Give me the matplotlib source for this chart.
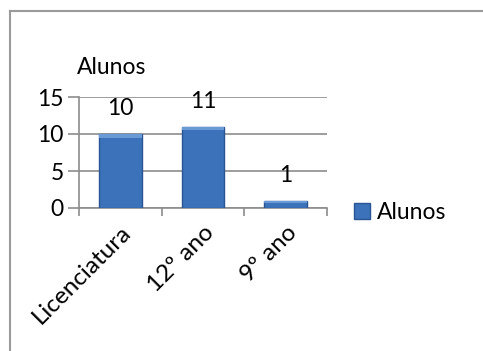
import matplotlib.pyplot as plt
from matplotlib.lines import Line2D

categories = ['Licenciatura', '12º ano', '9º ano']
alunos = [10, 11, 1]
yticks = [0, 5, 10, 15]

plt.rcParams['font.family'] = ['Lato', 'DejaVu Sans']
FS = 16.5

fig = plt.figure(figsize=(4.83, 3.51), dpi=100)
# axes box in pixels: x 79..327, y 97..208 (from top)
W, H = 483, 351
ax = fig.add_axes([79 / W, 1 - 208 / H, (327 - 79) / W, (208 - 97) / H])

x = range(len(categories))
bars = ax.bar(x, alunos, width=0.52, color='#3C72BA', edgecolor='#2A5494',
              linewidth=1.0, label='Alunos', zorder=3)
for b in bars:
    # lighter top strip to mimic the bevel
    h = min(0.5, b.get_height() * 0.3)
    ax.bar(b.get_x() + b.get_width() / 2, h, bottom=b.get_height() - h,
           width=b.get_width(), color='#6A9AD6', linewidth=0, zorder=4)

for xi, v in zip(x, alunos):
    ax.text(xi, v + 3.4, str(v), ha='center', va='center', fontsize=FS, zorder=5)

ax.set_xlim(-0.5, 2.5)
ax.set_ylim(0, 15)
ax.set_yticks(yticks)
ax.set_yticklabels([str(t) for t in yticks], fontsize=FS)
ax.yaxis.grid(True, color='#8c8c8c', linewidth=1.2, zorder=0)
ax.set_axisbelow(True)

ax.set_xticks([-0.5, 0.5, 1.5, 2.5], minor=False)
ax.set_xticklabels([])
ax.set_xticks(list(x), minor=True)
ax.set_xticklabels(categories, minor=True, rotation=45, ha='right',
                   rotation_mode='anchor', fontsize=17.5)
ax.tick_params(axis='x', which='minor', length=0, pad=10)
ax.tick_params(axis='x', which='major', length=6, width=1.2, color='#8c8c8c',
               direction='out')
ax.tick_params(axis='y', length=8, width=1.2, color='#8c8c8c', pad=3)

for s in ['top', 'right']:
    ax.spines[s].set_visible(False)
ax.spines['left'].set_color('#8c8c8c')
ax.spines['left'].set_linewidth(1.2)
ax.spines['bottom'].set_color('#8c8c8c')
ax.spines['bottom'].set_linewidth(1.2)

fig.text(77 / W, 1 - 68 / H, 'Alunos', fontsize=FS, ha='left', va='center')

leg = fig.legend(handles=[bars], labels=['Alunos'], loc='center left',
                 bbox_to_anchor=(354 / W, 1 - 213 / H), frameon=False,
                 fontsize=FS, handlelength=0.7, handleheight=0.7,
                 handletextpad=0.3, borderpad=0, borderaxespad=0)

# outer frame, only left and top visible (cropped)
fig.add_artist(Line2D([9.5 / W, 9.5 / W], [0, 1 - 11 / H], color='#9a9a9a',
                      linewidth=1.5, transform=fig.transFigure))
fig.add_artist(Line2D([9.5 / W, 1], [1 - 11 / H, 1 - 11 / H], color='#9a9a9a',
                      linewidth=1.5, transform=fig.transFigure))

fig.savefig('out.png', dpi=100)
